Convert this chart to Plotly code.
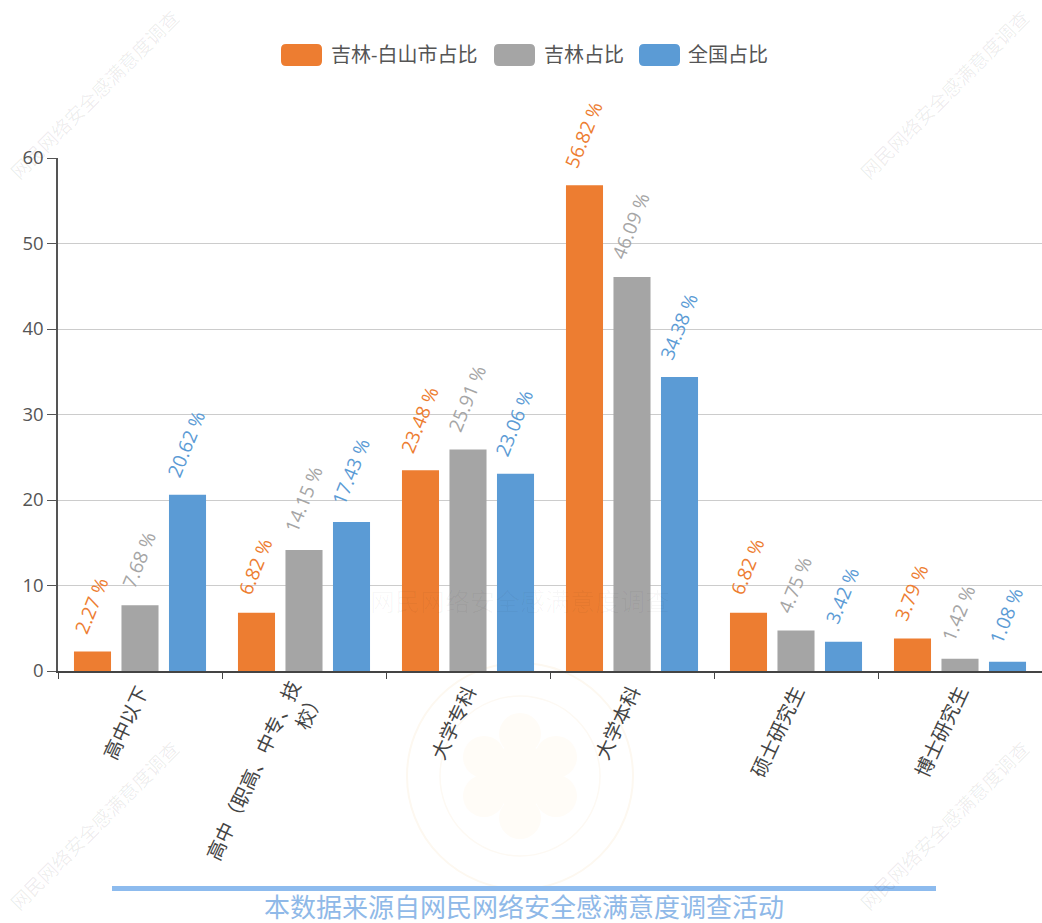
import plotly.graph_objects as go

categories = ["高中以下", "高中（职高、中专、技<br>校）", "大学专科", "大学本科", "硕士研究生", "博士研究生"]
series_names = ["吉林-白山市占比", "吉林占比", "全国占比"]
baishan = [2.27, 6.82, 23.48, 56.82, 6.82, 3.79]
jilin = [7.68, 14.15, 25.91, 46.09, 4.75, 1.42]
national = [20.62, 17.43, 23.06, 34.38, 3.42, 1.08]
colors = ["#ED7D31", "#A5A5A5", "#5B9BD5"]
footer = "本数据来源自网民网络安全感满意度调查活动"
watermark = "网民网络安全感满意度调查"

W, H = 1042, 923
L, R, T, B = 58, 1042, 158, 671
FONT = "Open Sans, Noto Sans CJK SC, sans-serif"

def px(x):
    return (x - L) / (R - L)

def py(y):
    return (B - y) / (B - T)

shapes = []
annotations = []

fig = go.Figure()
for i, (name, vals, c) in enumerate(zip(series_names, [baishan, jilin, national], colors)):
    fig.add_trace(go.Bar(x=categories, y=vals, name=name, marker=dict(color=c, line=dict(width=0)),
                         showlegend=False))
    for cat, v in zip(categories, vals):
        annotations.append(dict(x=cat, y=v, xref="x", yref="y", text=f"{v:.2f} %", showarrow=False,
                                textangle=-68, xanchor="center", yanchor="bottom",
                                xshift=(i - 1) * 47.5 - 1, yshift=11,
                                font=dict(size=19, color=c, family=FONT)))

def rrect(x0, y0, x1, y1, r, color):
    p = (f"M {px(x0+r)} {py(y0)} L {px(x1-r)} {py(y0)} Q {px(x1)} {py(y0)} {px(x1)} {py(y0+r)} "
         f"L {px(x1)} {py(y1-r)} Q {px(x1)} {py(y1)} {px(x1-r)} {py(y1)} "
         f"L {px(x0+r)} {py(y1)} Q {px(x0)} {py(y1)} {px(x0)} {py(y1-r)} "
         f"L {px(x0)} {py(y0+r)} Q {px(x0)} {py(y0)} {px(x0+r)} {py(y0)} Z")
    shapes.append(dict(type="path", xref="paper", yref="paper", path=p,
                       fillcolor=color, line=dict(width=0)))

def text(x, y, s, size, color, angle=0, anchor="center"):
    annotations.append(dict(x=px(x), y=py(y), xref="paper", yref="paper", text=s, showarrow=False,
                            textangle=angle, xanchor=anchor, yanchor="middle",
                            font=dict(size=size, color=color, family=FONT)))

def circle(cx, cy, r, fill=None, line=None, lw=1.5):
    shapes.append(dict(type="circle", xref="paper", yref="paper", layer="below",
                       x0=px(cx - r), x1=px(cx + r), y0=py(cy + r), y1=py(cy - r),
                       fillcolor=fill or "rgba(0,0,0,0)",
                       line=dict(color=line or "rgba(0,0,0,0)", width=lw if line else 0)))

# legend
for (x0, x1, tx), name, c in zip([(281, 322, 329), (494, 535, 542), (639, 680, 686)], series_names, colors):
    rrect(x0, 44, x1, 66, 5, c)
    text(tx, 54, name, 20, "#555555", anchor="left")

# faint watermarks
for cx, cy in [(95, 95), (945, 95), (95, 826), (945, 826)]:
    text(cx, cy, watermark, 19, "rgba(0,0,0,0.07)", angle=-45)
text(520, 601, "网民网络安全感满意度调查", 25, "rgba(0,0,0,0.03)")

# faint emblem
LOGO_X, LOGO_Y = 520, 776
circle(LOGO_X, LOGO_Y, 113, line="#fdf8f0", lw=2)
circle(LOGO_X, LOGO_Y, 80, line="#fdf9f3", lw=1.5)
for dx, dy in [(0, -42), (-36, -19), (-36, 20), (0, 42), (36, 20), (36, -19)]:
    circle(LOGO_X + dx, LOGO_Y + dy, 21, fill="#fffcf7")
circle(LOGO_X, LOGO_Y, 32, fill="#fffcf7")

# footer
shapes.append(dict(type="rect", xref="paper", yref="paper", x0=px(112), x1=px(936), y0=py(891), y1=py(886),
                   fillcolor="#8DBBEE", line=dict(width=0)))
text(524, 907, footer, 26, "#8FB9E8")

fig.update_layout(
    width=W, height=H, barmode="group", bargap=0.131, bargroupgap=0.22,
    margin=dict(l=L, r=W - R, t=T, b=H - B, autoexpand=False),
    plot_bgcolor="rgba(0,0,0,0)", paper_bgcolor="white",
    font=dict(family=FONT, color="#555555"), showlegend=False,
    shapes=shapes, annotations=annotations,
)
fig.update_xaxes(type="category", categoryorder="array", categoryarray=categories, tickson="boundaries",
                 ticks="outside", ticklen=6, tickcolor="#444444", showline=True, linecolor="#444444",
                 linewidth=1.5, showgrid=False, tickangle=-65, tickfont=dict(size=19.5, color="#444444"),
                 automargin=False)
fig.update_yaxes(range=[0, 60], dtick=10, ticks="outside", ticklen=9, tickcolor="#555555", showline=True,
                 linecolor="#555555", linewidth=1.5, gridcolor="#cccccc", gridwidth=1, zeroline=False,
                 tickfont=dict(size=18.5, color="#555555"), automargin=False)

fig.write_html("out.html", config=dict(displayModeBar=False),
               post_script="document.body.style.margin='0';document.body.style.overflow='hidden';")
